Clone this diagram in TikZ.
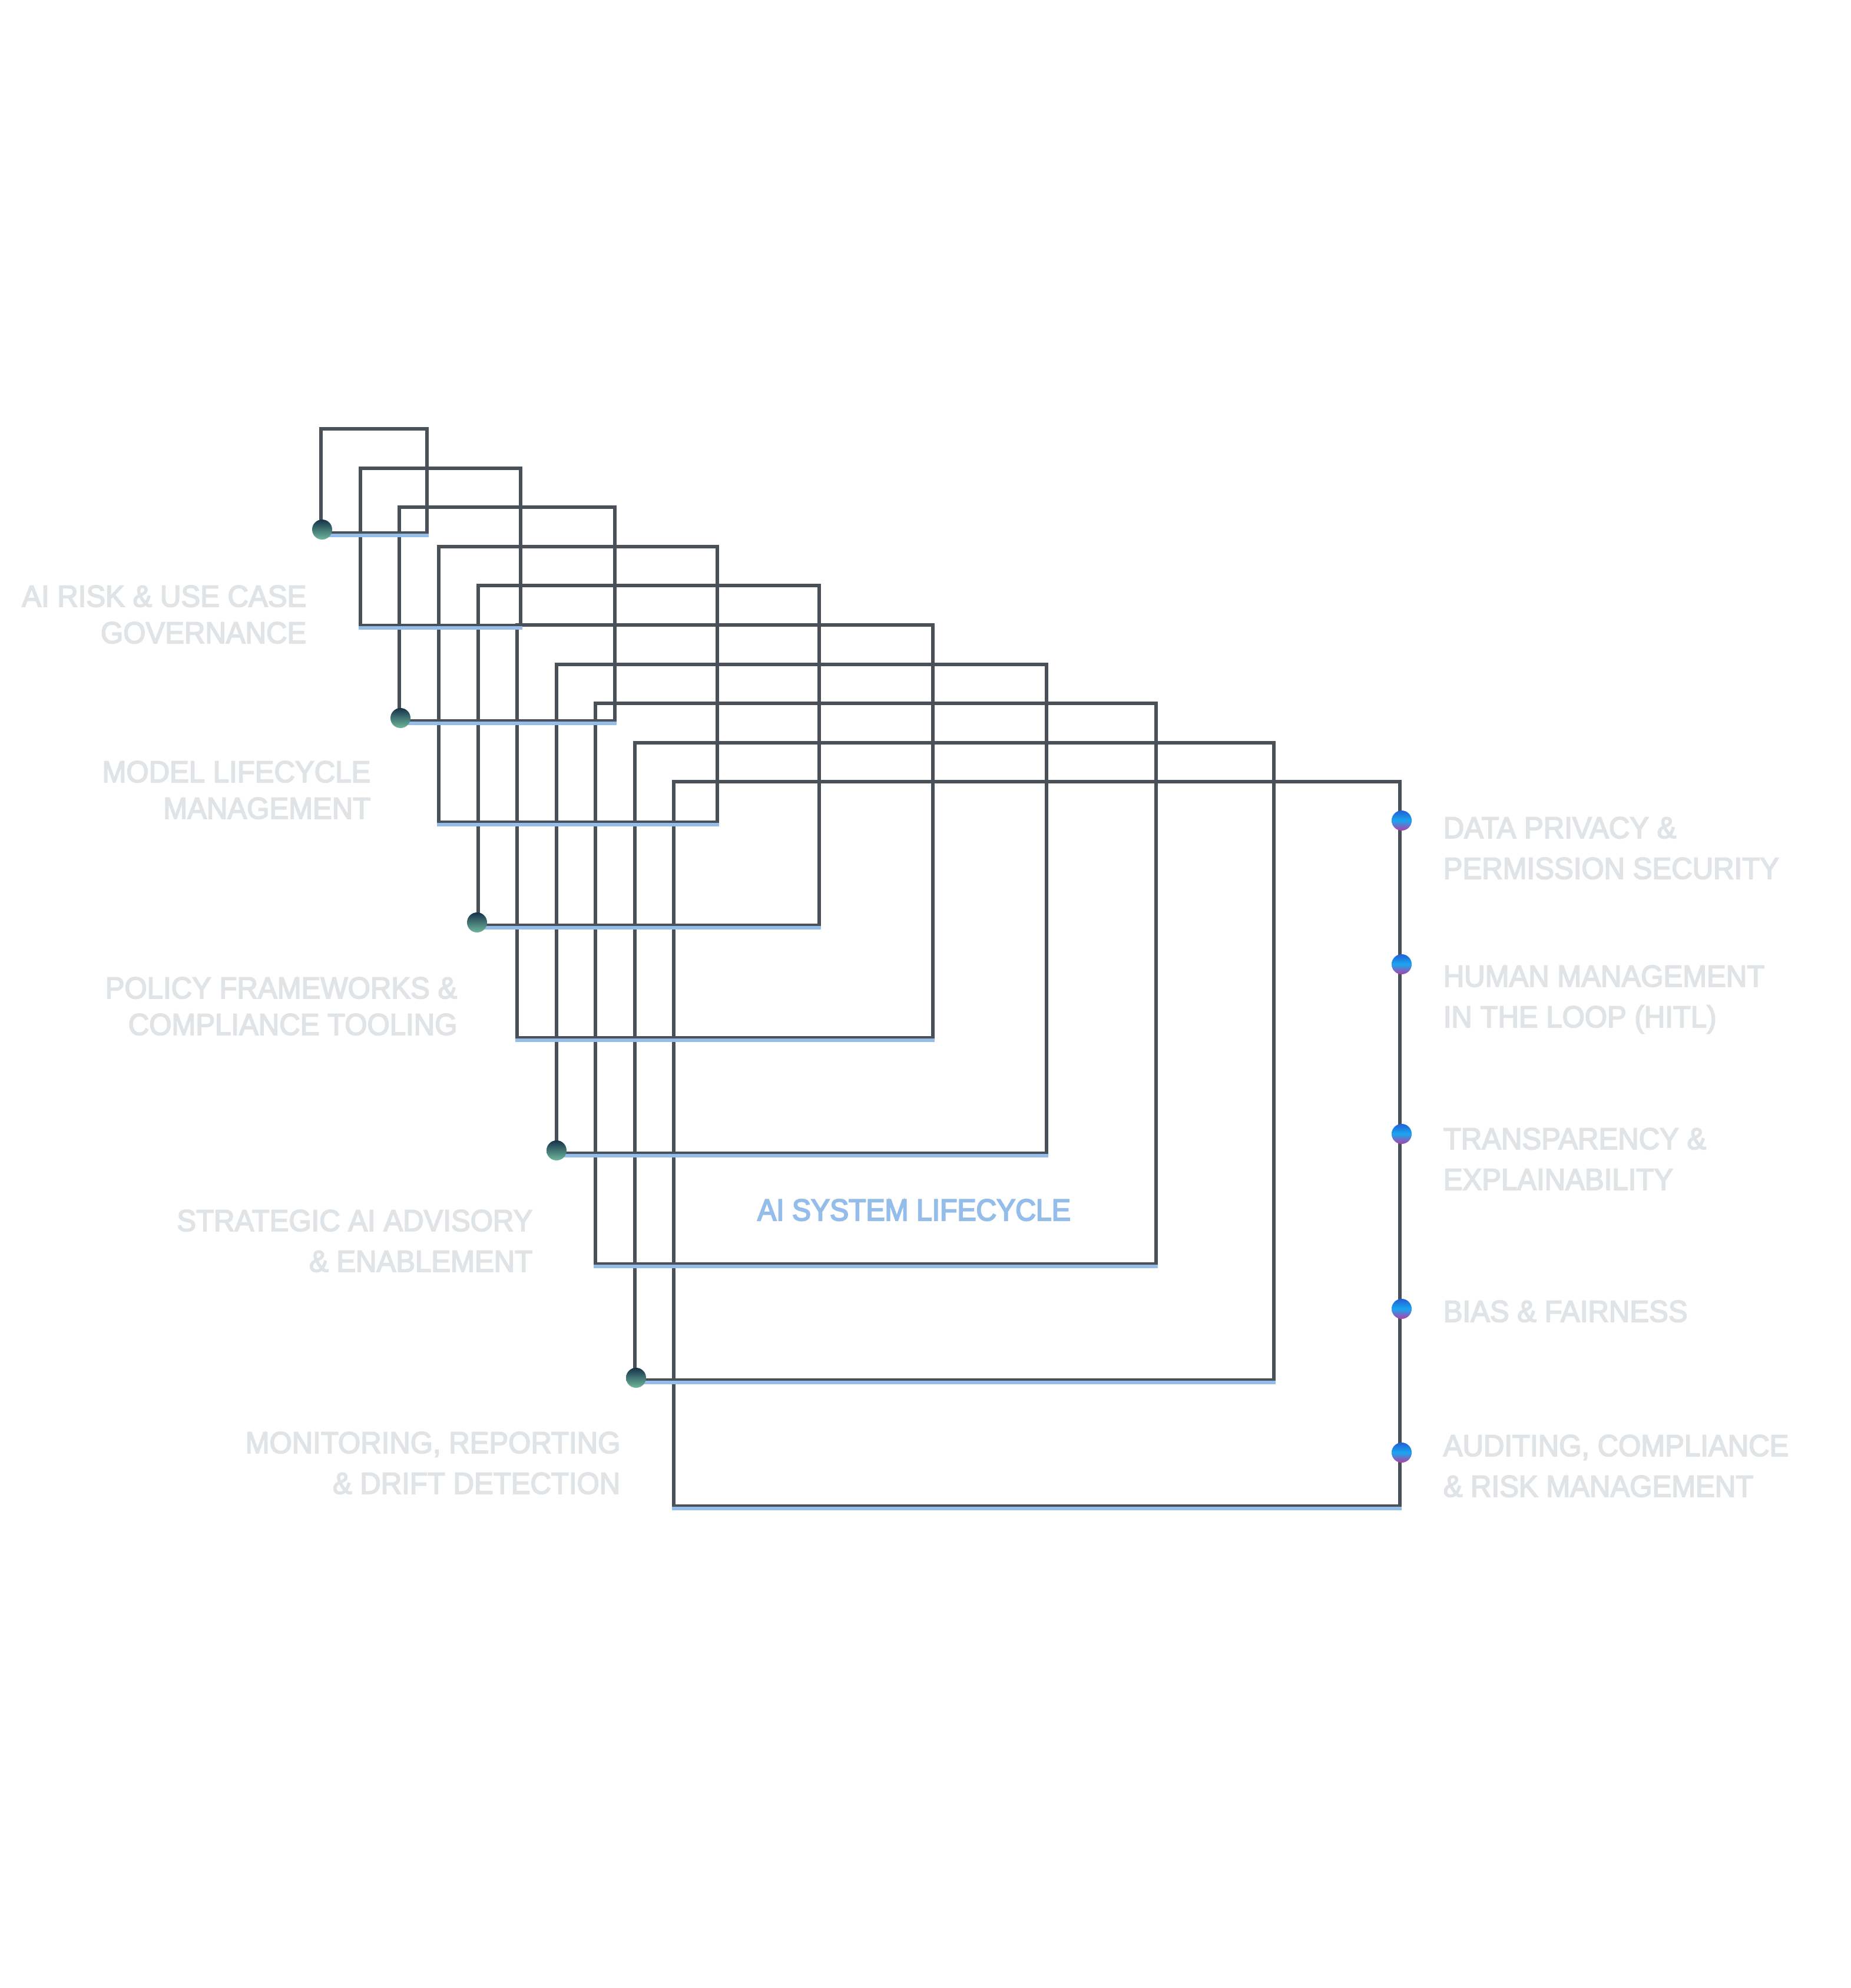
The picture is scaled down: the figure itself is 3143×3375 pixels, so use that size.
\documentclass[tikz,border=0pt]{standalone}
\usepackage{fontspec}
\setmainfont{Liberation Sans}
\newfontfamily\labfont{Liberation Sans}[FakeStretch=0.95, FakeBold=3.5]
\newfontfamily\ttlfont{Liberation Sans}[FakeStretch=0.93, FakeBold=4]
\definecolor{edgegray}{HTML}{4A5058}
\definecolor{accent}{HTML}{94BDE9}
\definecolor{labelgray}{HTML}{E1E4E7}
\definecolor{ltop}{HTML}{15324A}
\definecolor{lbot}{HTML}{6FB89C}
\definecolor{rtop}{HTML}{2160D8}
\definecolor{rmid}{HTML}{1AA6EF}
\definecolor{rbot}{HTML}{B23FA6}
\tikzset{
  frame/.style={draw=edgegray, line width=0.06cm},
  blueline/.style={draw=accent, line width=0.06cm, line cap=rect},
  ldot/.style={circle, minimum size=0.34cm, inner sep=0pt, top color=ltop, bottom color=lbot},
  rdot/.style={circle, minimum size=0.34cm, inner sep=0pt, top color=rtop, bottom color=rbot, middle color=rmid},
  lab/.style={text=labelgray, inner sep=0pt, font=\labfont\fontsize{14.7pt}{17pt}\selectfont},
  maintitle/.style={text=accent, inner sep=0pt, font=\ttlfont\fontsize{14.7pt}{17pt}\selectfont},
}
\begin{document}
\begin{tikzpicture}[x=0.01cm,y=-0.01cm]
\useasboundingbox (0,0) rectangle (3143,3375);
\fill[white] (0,0) rectangle (3143,3375);

% corner coordinates of the ten frames
\foreach \i/\L/\T/\R/\B in {1/545/728/725/905, 2/612/795/884/1062, 3/678/861/1044/1224,
  4/745/928/1218/1396, 5/812/994/1391/1571, 6/878/1061/1584/1762, 7/945/1128/1777/1958,
  8/1011/1194/1963/2146, 9/1078/1261/2163/2343, 10/1144/1327/2377/2557}{
  \coordinate (tl\i) at (\L,\T);
  \coordinate (tr\i) at (\R,\T);
  \coordinate (br\i) at (\R,\B);
  \coordinate (bl\i) at (\L,\B);
  \coordinate (ul\i) at (\L,\B+4);
  \coordinate (ur\i) at (\R,\B+4);
}

% dark frames
\foreach \i in {1,...,10}{
  \draw[frame] (bl\i) -- (tl\i) -- (tr\i) -- (br\i) -- cycle;
}
% blue bottoms
\foreach \i in {1,...,10}{
  \draw[blueline] (ul\i) -- (ur\i);
}

% left dots
\node[ldot] (d1) at (547,899) {};
\node[ldot] (d3) at (680,1219) {};
\node[ldot] (d5) at (810,1566) {};
\node[ldot] (d7) at (945,1953) {};
\node[ldot] (d9) at (1080,2339) {};

% right dots
\node[rdot] (r1) at (2380,1393) {};
\node[rdot] (r2) at (2380,1637) {};
\node[rdot] (r3) at (2380,1925) {};
\node[rdot] (r4) at (2380,2222) {};
\node[rdot] (r5) at (2380,2466) {};

% left labels
\node[lab, anchor=base east] (la1) at (521,1030) {AI RISK \& USE CASE};
\node[lab, anchor=base east] (la2) at (521,1092) {GOVERNANCE};
\node[lab, anchor=base east] (lb1) at (630,1328) {MODEL LIFECYCLE};
\node[lab, anchor=base east] (lb2) at (630,1390) {MANAGEMENT};
\node[lab, anchor=base east] (lc1) at (777,1695) {POLICY FRAMEWORKS \&};
\node[lab, anchor=base east] (lc2) at (777,1757) {COMPLIANCE TOOLING};
\node[lab, anchor=base east] (ld1) at (905,2090) {STRATEGIC AI ADVISORY};
\node[lab, anchor=base east] (ld2) at (905,2159) {\& ENABLEMENT};
\node[lab, anchor=base east] (le1) at (1054,2467) {MONITORING, REPORTING};
\node[lab, anchor=base east] (le2) at (1054,2536) {\& DRIFT DETECTION};

% right labels
\node[lab, anchor=base west] (ra1) at (2450,1423) {DATA PRIVACY \&};
\node[lab, anchor=base west] (ra2) at (2450,1492) {PERMISSION SECURITY};
\node[lab, anchor=base west] (rb1) at (2450,1675) {HUMAN MANAGEMENT};
\node[lab, anchor=base west] (rb2) at (2450,1744) {IN THE LOOP (HITL)};
\node[lab, anchor=base west] (rc1) at (2450,1951) {TRANSPARENCY \&};
\node[lab, anchor=base west] (rc2) at (2450,2020) {EXPLAINABILITY};
\node[lab, anchor=base west] (rd1) at (2450,2244) {BIAS \& FAIRNESS};
\node[lab, anchor=base west] (re1) at (2450,2472) {AUDITING, COMPLIANCE};
\node[lab, anchor=base west] (re2) at (2450,2541) {\& RISK MANAGEMENT};

% centre title
\node[maintitle, anchor=base] (title) at (1552,2072) {AI SYSTEM LIFECYCLE};
\end{tikzpicture}
\end{document}
